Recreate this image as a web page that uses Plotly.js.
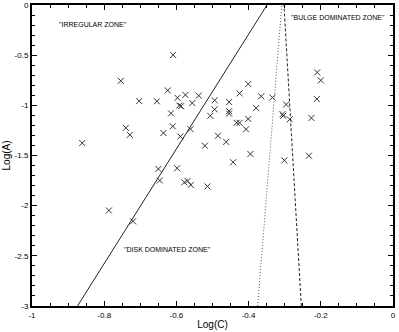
<!DOCTYPE html>
<html>
<head>
<meta charset="utf-8">
<script src="https://cdn.plot.ly/plotly-3.0.1.min.js"></script>
<style>
  body { margin: 0; background: #fff; }
  #plot { width: 399px; height: 332px; }
</style>
</head>
<body>
<div id="plot"></div>
<script>
// galaxy sample, log concentration vs log asymmetry
var logC = [-0.861, -0.754, -0.703, -0.654, -0.740, -0.729, -0.609, -0.624, -0.597, -0.575,
            -0.592, -0.587, -0.556, -0.615, -0.610, -0.636, -0.589, -0.561, -0.538, -0.494,
            -0.494, -0.506, -0.454, -0.454, -0.454, -0.401, -0.425, -0.365, -0.379, -0.401,
            -0.433, -0.425, -0.407, -0.485, -0.462, -0.521, -0.395, -0.443, -0.334, -0.296,
            -0.306, -0.304, -0.286, -0.226, -0.210, -0.200, -0.211, -0.301, -0.233, -0.650,
            -0.598, -0.646, -0.578, -0.569, -0.560, -0.514, -0.787, -0.720];
var logA = [-1.376, -0.756, -0.958, -0.960, -1.224, -1.294, -0.498, -0.851, -0.925, -0.896,
            -1.002, -1.008, -0.977, -1.080, -1.209, -1.276, -1.310, -1.237, -0.903, -0.950,
            -1.040, -1.104, -0.967, -1.058, -1.082, -0.788, -0.881, -0.910, -1.028, -1.136,
            -1.174, -1.174, -1.239, -1.303, -1.365, -1.403, -1.485, -1.567, -0.922, -0.992,
            -1.088, -1.104, -1.139, -1.126, -0.672, -0.751, -0.937, -1.549, -1.502, -1.634,
            -1.627, -1.749, -1.768, -1.754, -1.793, -1.808, -2.048, -2.156];

// zone boundaries
var solidX = [-0.874, -0.349], solidY = [-3, 0];
var dotX = [-0.375, -0.308], dotY = [-3, 0];
var dashX = [-0.254, -0.302], dashY = [-3, 0];

var xTicks = [-1, -0.8, -0.6, -0.4, -0.2, 0];
var xLabels = ['-1', '-0.8', '-0.6', '-0.4', '-0.2', '0'];
var yTicks = [0, -0.5, -1, -1.5, -2, -2.5, -3];
var yLabels = ['0', '-0.5', '-1', '-1.5', '-2', '-2.5', '-3'];

var zones = [
  {x: -0.831, y: -0.19, text: '"IRREGULAR ZONE"'},
  {x: -0.151, y: -0.123, text: '"BULGE DOMINATED ZONE"'},
  {x: -0.626, y: -2.434, text: '"DISK DOMINATED ZONE"'}
];

var font = 'Liberation Sans, Arial, sans-serif';

var traces = [
  {x: logC, y: logA, mode: 'markers', type: 'scatter',
   marker: {symbol: 'x-thin', size: 6, line: {width: 1, color: '#333'}}},
  {x: solidX, y: solidY, mode: 'lines', type: 'scatter',
   line: {color: '#222', width: 1}},
  {x: dotX, y: dotY, mode: 'lines', type: 'scatter',
   line: {color: '#555', width: 1, dash: '1px,2px'}},
  {x: dashX, y: dashY, mode: 'lines', type: 'scatter',
   line: {color: '#222', width: 1, dash: '3px,2px'}}
];

var axisBase = {
  showgrid: false, zeroline: false, showline: true, linecolor: '#000', linewidth: 2,
  mirror: 'allticks', ticks: 'inside', ticklen: 5, tickwidth: 1, tickcolor: '#000',
  tickfont: {family: font, size: 8, color: '#000'}
};

var layout = {
  width: 399, height: 332,
  margin: {l: 32, r: 6, t: 5, b: 26},
  showlegend: false,
  plot_bgcolor: '#fff', paper_bgcolor: '#fff',
  xaxis: Object.assign({}, axisBase, {
    range: [-1, 0], tickvals: xTicks, ticktext: xLabels,
    minor: {dtick: 0.05, ticks: 'inside', ticklen: 3, tickcolor: '#000'},
    title: {text: 'Log(C)', font: {family: font, size: 10, color: '#000'}, standoff: 2}
  }),
  yaxis: Object.assign({}, axisBase, {
    range: [-3, 0], tickvals: yTicks, ticktext: yLabels,
    minor: {dtick: 0.1, ticks: 'inside', ticklen: 3, tickcolor: '#000'},
    title: {text: 'Log(A)', font: {family: font, size: 10, color: '#000'}, standoff: 2}
  }),
  annotations: zones.map(function (z) {
    return {x: z.x, y: z.y, text: z.text, showarrow: false,
            font: {family: font, size: 7, color: '#000'}};
  })
};

Plotly.newPlot('plot', traces, layout, {displayModeBar: false, staticPlot: true});
</script>
</body>
</html>
